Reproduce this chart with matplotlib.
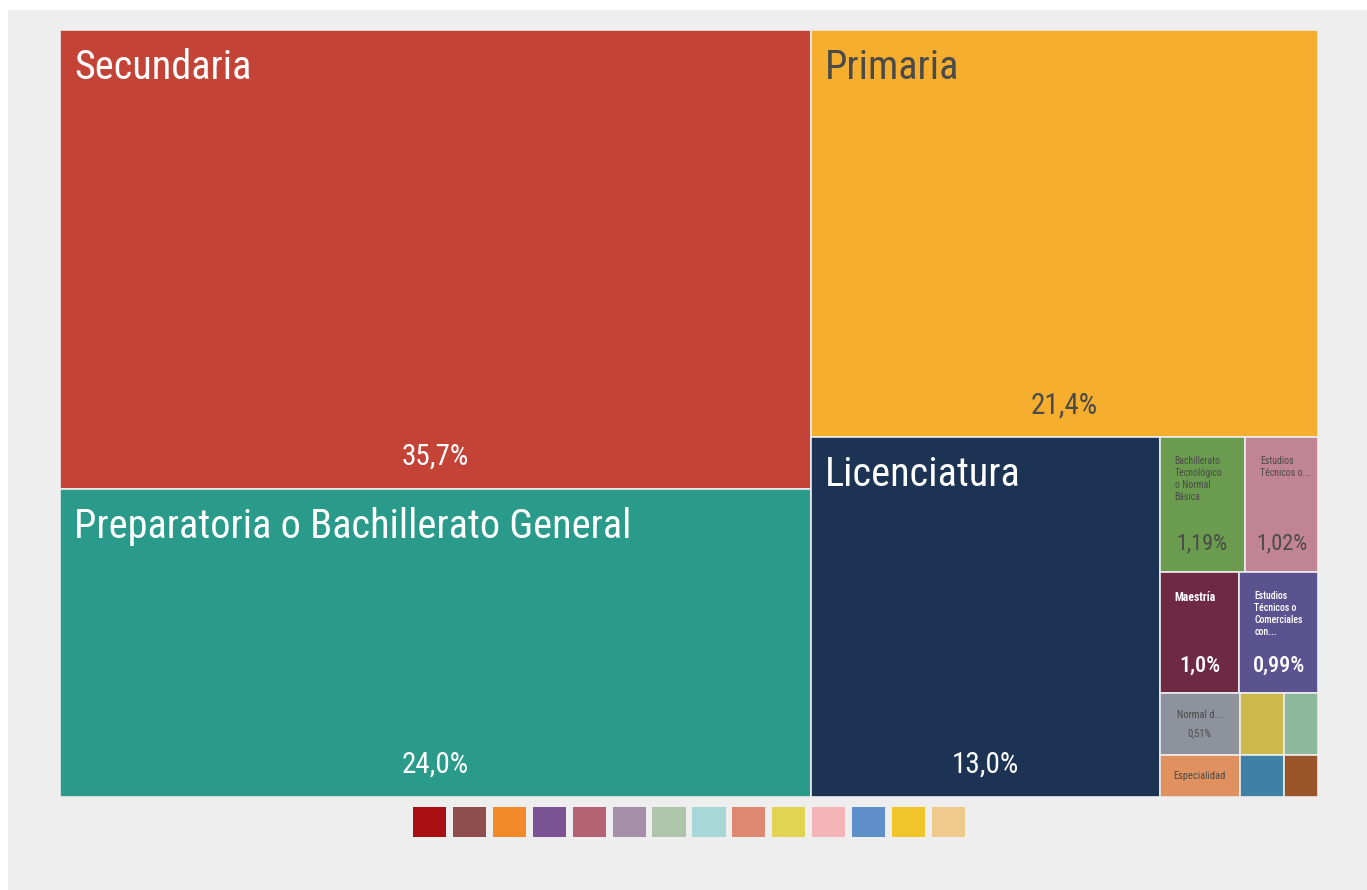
import matplotlib.pyplot as plt
from matplotlib.patches import Rectangle

plt.rcParams['font.family'] = ['Roboto Condensed', 'Lato', 'DejaVu Sans']

# education level shares (%), sorted descending as in the treemap
categories = [
    "Secundaria",
    "Preparatoria o Bachillerato General",
    "Primaria",
    "Licenciatura",
    "Bachillerato Tecnológico o Normal Básica",
    "Estudios Técnicos o Comerciales con Secundaria",
    "Maestría",
    "Estudios Técnicos o Comerciales con Preparatoria",
    "Normal de Licenciatura",
    "Especialidad",
    "Preescolar",
    "Ninguno",
    "Doctorado",
    "No especificado",
]
shares = [35.7, 24.0, 21.4, 13.0, 1.19, 1.02, 1.0, 0.99, 0.51, 0.35, 0.28, 0.22, 0.19, 0.15]
decimals = [1, 1, 1, 1, 2, 2, 1, 2, 2, None, None, None, None, None]
tile_labels = [
    "Secundaria",
    "Preparatoria o Bachillerato General",
    "Primaria",
    "Licenciatura",
    "Bachillerato\nTecnológico\no Normal\nBásica",
    "Estudios\nTécnicos o...",
    "Maestría",
    "Estudios\nTécnicos o\nComerciales\ncon...",
    "Normal d...",
    "Especialidad",
    "", "", "", "",
]
tile_colors = [
    "#C44337", "#2A9B8A", "#F5AE2E", "#1D3354", "#6A9B4E", "#C08494", "#6E2A43",
    "#5B5390", "#8E929D", "#E0915F", "#CCB94B", "#8DB89C", "#3F80A6", "#9A5429",
]
dark_text = [False, False, True, False, True, True, False, False, True, True,
             False, False, False, False]
legend_colors = [
    "#A80F12", "#8E4E4E", "#F28A2A", "#7A5394", "#B56374", "#A68DA8", "#AEC5AB",
    "#A8D7D8", "#DE8871", "#E0D452", "#F3B5B8", "#5E8FC8", "#F0C52A", "#F0C98C",
]


def squarify(values, x0, y0, x1, y1, ratio=(1 + 5 ** 0.5) / 2):
    # d3-style squarified layout
    rects = [None] * len(values)
    total = float(sum(values))
    i0, n = 0, len(values)
    while i0 < n:
        dx, dy = x1 - x0, y1 - y0
        s = values[i0]
        vmin = vmax = s
        alpha = max(dy / dx, dx / dy) / (total * ratio)
        beta = s * s * alpha
        best = max(vmax / beta, beta / vmin)
        i1 = i0 + 1
        while i1 < n:
            v = values[i1]
            s2 = s + v
            beta = s2 * s2 * alpha
            r = max(max(vmax, v) / beta, beta / min(vmin, v))
            if r > best:
                break
            best, s = r, s2
            vmin, vmax = min(vmin, v), max(vmax, v)
            i1 += 1
        if dx < dy:
            h = dy * s / total
            xx = x0
            for k in range(i0, i1):
                w = dx * values[k] / s
                rects[k] = (xx, y0, w, h)
                xx += w
            y0 += h
        else:
            w = dx * s / total
            yy = y0
            for k in range(i0, i1):
                h = dy * values[k] / s
                rects[k] = (x0, yy, w, h)
                yy += h
            x0 += w
        total -= s
        i0 = i1
    return rects


W, H = 1367, 890
fig = plt.figure(figsize=(W / 100, H / 100), dpi=100, facecolor='white')
fig.patches.append(Rectangle((8 / W, 0), 1 - 8 / W, 1 - 10 / H, transform=fig.transFigure,
                             facecolor='#EEEEEE', edgecolor='none', zorder=-5))

# treemap axes, in pixel-like units
aw, ah = 1258, 767
ax = fig.add_axes([60 / W, (H - 797) / H, aw / W, ah / H])
ax.set_xlim(0, aw)
ax.set_ylim(ah, 0)
ax.axis('off')

rects = squarify(shares, 0, 0, aw, ah)
for i, (x, y, w, h) in enumerate(rects):
    ax.add_patch(Rectangle((x, y), w, h, facecolor=tile_colors[i], edgecolor='#ECECEC', lw=1.2))
    tc = '#4A4A4A' if dark_text[i] else 'white'
    wt = 'normal' if dark_text[i] else 'medium'
    pct = None if decimals[i] is None else f"{shares[i]:.{decimals[i]}f}%".replace('.', ',')
    if w > 200:
        ax.text(x + 14, y + 18, tile_labels[i], color=tc, fontsize=29, va='top', ha='left')
        ax.text(x + w / 2, y + h - 32, pct, color=tc, fontsize=21, va='center', ha='center')
    elif h > 90:
        lbl_size = 8.5 if '\n' not in tile_labels[i] else 7
        ax.text(x + 15, y + 19, tile_labels[i], color=tc, fontsize=lbl_size, va='top', ha='left',
                linespacing=1.25, fontweight='bold' if lbl_size > 8 else wt)
        ax.text(x + w / 2, y + h - 28, pct, color=tc, fontsize=16, va='center', ha='center',
                fontweight=wt)
    elif tile_labels[i]:
        if pct:
            ax.text(x + w / 2, y + 22, tile_labels[i], color=tc, fontsize=7.5, va='center', ha='center')
            ax.text(x + w / 2, y + 40, pct, color=tc, fontsize=7.5, va='center', ha='center')
        else:
            ax.text(x + w / 2, y + h / 2, tile_labels[i], color=tc, fontsize=7.5,
                    va='center', ha='center')

# colour legend strip (no labels)
lax = fig.add_axes([413 / W, (H - 837) / H, 552 / W, 30 / H])
lax.bar(range(len(legend_colors)), 1, width=0.83, color=legend_colors)
lax.set_xlim(-0.415, len(legend_colors) - 1 + 0.415)
lax.set_ylim(0, 1)
lax.axis('off')

fig.savefig('out.png', dpi=100, facecolor=fig.get_facecolor())
